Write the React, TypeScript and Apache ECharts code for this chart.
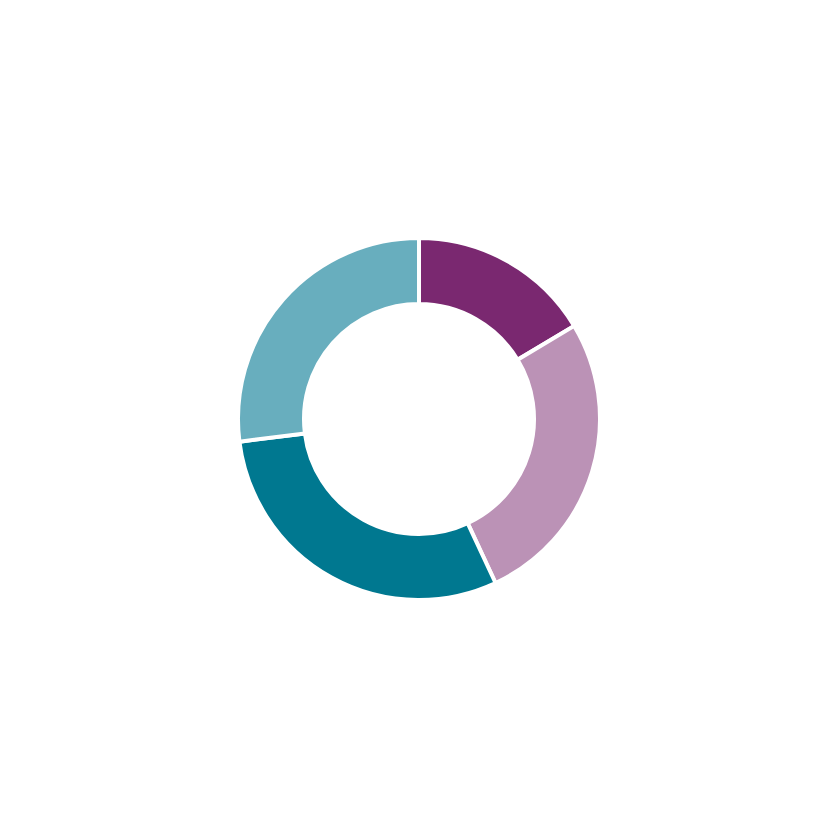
import React, { useEffect, useRef } from 'react';
import * as echarts from 'echarts';

const categories = ['A', 'B', 'C', 'D'];
const values = [16.4, 26.65, 29.95, 27.0];
const colors = ['#7a2870', '#bb92b6', '#007890', '#68aebe'];

const App: React.FC = () => {
  const chartRef = useRef<HTMLDivElement>(null);

  useEffect(() => {
    if (!chartRef.current) return;
    const chart = echarts.init(chartRef.current, undefined, { renderer: 'svg' });

    const option: echarts.EChartsOption = {
      animation: false,
      series: [
        {
          type: 'pie',
          center: [419, 419],
          radius: [115, 181],
          startAngle: 90,
          clockwise: true,
          label: { show: false },
          labelLine: { show: false },
          itemStyle: { borderColor: '#ffffff', borderWidth: 4 },
          data: categories.map((name, i) => ({
            name,
            value: values[i],
            itemStyle: { color: colors[i] },
          })),
        },
      ],
    };

    chart.setOption(option);
    return () => chart.dispose();
  }, []);

  return (
    <div
      ref={chartRef}
      style={{ position: 'fixed', left: 0, top: 0, width: 840, height: 840, background: '#fff' }}
    />
  );
};

export default App;
